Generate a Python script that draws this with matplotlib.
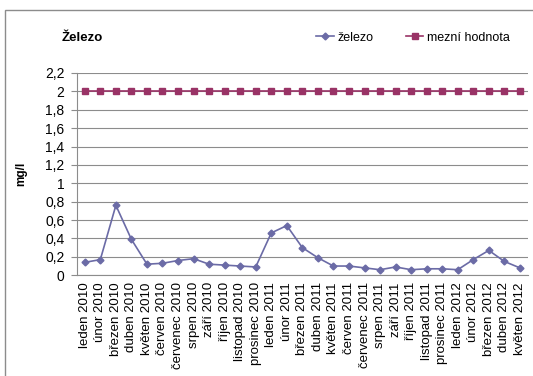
import matplotlib.pyplot as plt
from matplotlib.patches import Rectangle

plt.rcParams['font.family'] = ['Liberation Sans', 'DejaVu Sans']

months = ["leden 2010", "únor 2010", "březen 2010", "duben 2010", "květen 2010",
          "červen 2010", "červenec 2010", "srpen 2010", "září 2010", "říjen 2010",
          "listopad 2010", "prosinec 2010", "leden 2011", "únor 2011", "březen 2011",
          "duben 2011", "květen 2011", "červen 2011", "červenec 2011", "srpen 2011",
          "září 2011", "říjen 2011", "listopad 2011", "prosinec 2011", "leden 2012",
          "únor 2012", "březen 2012", "duben 2012", "květen 2012"]
zelezo = [0.14, 0.17, 0.76, 0.39, 0.12, 0.13, 0.16, 0.18, 0.12, 0.11, 0.10, 0.09,
          0.46, 0.54, 0.30, 0.19, 0.10, 0.10, 0.08, 0.06, 0.09, 0.06, 0.07, 0.07,
          0.06, 0.17, 0.27, 0.15, 0.08]
mezni = [2.0] * len(months)
yticks = [0, 0.2, 0.4, 0.6, 0.8, 1, 1.2, 1.4, 1.6, 1.8, 2, 2.2]
ylabels = ["0", "0,2", "0,4", "0,6", "0,8", "1", "1,2", "1,4", "1,6", "1,8", "2", "2,2"]

fig = plt.figure(figsize=(5.33, 3.76), dpi=100)
ax = fig.add_axes([0.1445, 0.268, 0.8455, 0.538])

x = range(len(months))
ax.plot(x, zelezo, color="#6b6ba6", marker="D", markersize=3.5, lw=1.2, label="železo")
ax.plot(x, mezni, color="#993366", marker="s", markersize=4, lw=1.2, label="mezní hodnota")

ax.set_xlim(-0.5, len(months) - 0.5)
ax.set_ylim(0, 2.2)
ax.set_yticks(yticks)
ax.set_yticklabels(ylabels)
ax.set_xticks(list(x))
ax.set_xticklabels(months, rotation=90)
ax.tick_params(axis="y", labelsize=10, length=4, color="#8c8c8c", pad=5)
ax.tick_params(axis="x", labelsize=9.5, length=0, pad=5)
ax.grid(axis="y", color="#8c8c8c", lw=0.8)
ax.set_axisbelow(True)
for s in ["top", "right"]:
    ax.spines[s].set_color("none")
for s in ["left", "bottom"]:
    ax.spines[s].set_color("#8c8c8c")

ax.set_ylabel("mg/l", fontsize=8.5, fontweight="bold", labelpad=13)
fig.text(0.116, 0.9, "Železo", fontsize=9.5, fontweight="bold", va="center")
fig.legend(loc="center left", bbox_to_anchor=(0.572, 0.9), ncol=2, frameon=False,
           fontsize=9, handlelength=1.4, columnspacing=2.6, handletextpad=0.3)

fig.patches.append(Rectangle((5 / 533, -0.1), 1.2, 366 / 376 + 0.1, transform=fig.transFigure,
                             fill=False, edgecolor="#8c8c8c", lw=1))

fig.savefig("out.png", dpi=100)
